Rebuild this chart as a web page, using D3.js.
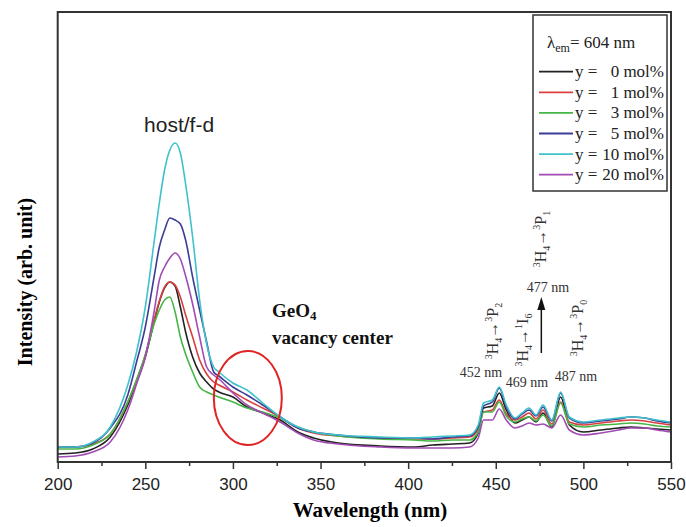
<!DOCTYPE html>
<html>
<head>
<meta charset="utf-8">
<script src="https://cdn.jsdelivr.net/npm/d3@7"></script>
<style>
  body { margin: 0; background: #fff; }
  svg { display: block; }
</style>
</head>
<body>
<svg width="686" height="527"></svg>
<script>
// wavelengths (nm) shared by all spectra
const wavelengths = [200, 210, 220, 230, 240, 245, 250, 255, 258, 261, 264, 267, 270, 273, 277, 281, 285, 289, 292,
  300, 308, 317, 327, 337, 346, 360, 384, 403, 414, 425, 435, 440, 443, 448, 452, 456, 461, 465, 469, 473, 477,
  482, 487, 492, 500, 510, 520, 527, 535, 542, 550];

// intensities (arb. unit)
const y0 = [8, 9, 13, 25, 57, 80, 105, 140, 160, 174, 180, 176, 155, 130, 105, 89, 80, 73, 70,
  65, 55, 49, 42, 30, 24, 19, 16, 15, 17, 18, 19, 29, 54, 56, 69, 52, 39, 42, 45, 40, 49,
  35, 65, 37, 30, 32, 34, 35, 34, 33, 32];
const y1 = [15, 15, 18, 28, 60, 82, 107, 142, 161, 175, 180, 177, 165, 147, 125, 102, 88, 80, 77,
  70, 62, 54, 45, 34, 29, 26, 24, 23, 23, 24, 25, 33, 50, 52, 62, 48, 42, 45, 49, 43, 52,
  38, 60, 40, 37, 39, 41, 42, 41, 39, 37];
const y3 = [13, 13, 17, 28, 60, 82, 107, 138, 152, 162, 165, 150, 125, 108, 90, 75, 70, 67, 65,
  60, 54, 50, 44, 35, 30, 26, 23, 22, 21, 22, 22, 30, 50, 50, 60, 46, 40, 43, 45, 41, 47,
  36, 59, 38, 35, 37, 38, 39, 38, 36, 35];
const y5 = [15, 15, 19, 34, 67, 100, 135, 185, 215, 232, 244, 242, 238, 222, 185, 152, 120, 90, 86,
  75, 67, 57, 45, 34, 30, 27, 24, 24, 23, 25, 26, 35, 56, 60, 74, 55, 43, 48, 52, 46, 55,
  41, 69, 44, 39, 41, 43, 45, 44, 41, 39];
const y10 = [15, 15, 20, 35, 77, 110, 155, 220, 259, 292, 312, 319, 309, 278, 225, 162, 118, 95, 90,
  79, 72, 59, 45, 35, 30, 27, 25, 24, 25, 26, 27, 37, 59, 62, 75, 57, 44, 49, 54, 47, 57,
  42, 70, 45, 40, 42, 44, 45, 44, 42, 40];
const y20 = [5, 6, 10, 20, 52, 78, 105, 150, 182, 195, 204, 209, 203, 186, 158, 125, 95, 87, 83,
  69, 57, 49, 40, 29, 22, 18, 15, 14, 14, 14, 15, 24, 42, 42, 53, 42, 34, 36, 39, 37, 38,
  34, 47, 32, 27, 29, 32, 34, 34, 32, 30];

const seriesNames = ['y =', 'y =', 'y =', 'y =', 'y =', 'y ='];
const seriesMol = ['0 mol%', '1 mol%', '3 mol%', '5 mol%', '10 mol%', '20 mol%'];
const seriesColors = ['#222222', '#d9403f', '#45b545', '#3b3d96', '#3fc2cc', '#a24bb4'];
const seriesValues = [y0, y1, y3, y5, y10, y20];
const xTicks = [200, 250, 300, 350, 400, 450, 500, 550];

const svg = d3.select('svg');
const serif = '"Liberation Serif", "Times New Roman", serif';
const sans = '"Liberation Sans", Arial, sans-serif';

const x = d3.scaleLinear().domain([200, 550]).range([57.7, 671]);
const y = d3.scaleLinear().domain([0, 450]).range([462, 12]);

// spectra
const line = d3.line()
  .x((d, i) => x(wavelengths[i]))
  .y(d => y(d))
  .curve(d3.curveMonotoneX);

// draw order: background first, cyan on top
[0, 1, 2, 5, 3, 4].forEach(k => {
  svg.append('path')
    .datum(seriesValues[k])
    .attr('d', line)
    .attr('fill', 'none')
    .attr('stroke', seriesColors[k])
    .attr('stroke-width', 1.6);
});

// frame
svg.append('rect')
  .attr('x', x(200)).attr('y', y(450))
  .attr('width', x(550) - x(200)).attr('height', y(0) - y(450))
  .attr('fill', 'none').attr('stroke', '#333').attr('stroke-width', 2);

// bottom axis
const xAxis = svg.append('g')
  .attr('transform', `translate(0,${y(0)})`)
  .call(d3.axisBottom(x).tickValues(xTicks).tickSize(7).tickPadding(9).tickFormat(d3.format('d')));
xAxis.select('.domain').remove();
xAxis.selectAll('line').attr('stroke', '#333').attr('stroke-width', 1.5);
xAxis.selectAll('text').attr('font-family', sans).attr('font-size', 17).attr('fill', '#222');

const minor = svg.append('g')
  .attr('transform', `translate(0,${y(0)})`)
  .call(d3.axisBottom(x).tickValues(d3.range(225, 550, 50)).tickSize(4).tickFormat(''));
minor.select('.domain').remove();
minor.selectAll('line').attr('stroke', '#333').attr('stroke-width', 1.5);

// axis titles
svg.append('text')
  .attr('x', 370).attr('y', 517)
  .attr('text-anchor', 'middle')
  .attr('font-family', serif).attr('font-weight', 'bold').attr('font-size', 21)
  .text('Wavelength (nm)');

svg.append('text')
  .attr('transform', 'translate(32,282) rotate(-90)')
  .attr('text-anchor', 'middle')
  .attr('font-family', serif).attr('font-weight', 'bold').attr('font-size', 20)
  .text('Intensity (arb. unit)');

// legend
const lg = svg.append('g');
lg.append('rect')
  .attr('x', 533).attr('y', 15).attr('width', 134).attr('height', 176)
  .attr('fill', '#fff').attr('stroke', '#333').attr('stroke-width', 1.5);

const lam = lg.append('text')
  .attr('x', 547).attr('y', 48)
  .attr('font-family', serif).attr('font-size', 17).attr('fill', '#222');
lam.append('tspan').text('λ');
lam.append('tspan').attr('font-size', 12).attr('baseline-shift', '-30%').text('em');
lam.append('tspan').attr('baseline-shift', '0').attr('dy', 0).text('= 604 nm');

seriesMol.forEach((m, i) => {
  const ly = 71.7 + i * 20.6;
  lg.append('line')
    .attr('x1', 539).attr('x2', 573).attr('y1', ly).attr('y2', ly)
    .attr('stroke', seriesColors[i]).attr('stroke-width', 1.8);
  lg.append('text')
    .attr('x', 575).attr('y', ly + 5.5)
    .attr('font-family', serif).attr('font-size', 17).attr('fill', '#222')
    .text(seriesNames[i]);
  lg.append('text')
    .attr('x', 664).attr('y', ly + 5.5)
    .attr('text-anchor', 'end')
    .attr('font-family', serif).attr('font-size', 17).attr('fill', '#222')
    .text(m);
});

// annotations
svg.append('text')
  .attr('x', x(267) + 4).attr('y', 132)
  .attr('text-anchor', 'middle')
  .attr('font-family', sans).attr('font-size', 21).attr('fill', '#222')
  .text('host/f-d');

const ge = svg.append('text')
  .attr('x', 272).attr('y', 317)
  .attr('font-family', serif).attr('font-weight', 'bold').attr('font-size', 19).attr('fill', '#111');
ge.append('tspan').text('GeO');
ge.append('tspan').attr('font-size', 13).attr('dy', 3).text('4');

svg.append('text')
  .attr('x', 272).attr('y', 344)
  .attr('font-family', serif).attr('font-weight', 'bold').attr('font-size', 19).attr('fill', '#111')
  .text('vacancy center');

svg.append('ellipse')
  .attr('cx', x(308.5)).attr('cy', 398).attr('rx', 34).attr('ry', 47)
  .attr('fill', 'none').attr('stroke', '#e02424').attr('stroke-width', 2);

// peak labels
const peakLabels = [
  { t: '452 nm', x: 481, y: 377 },
  { t: '469 nm', x: 527, y: 387 },
  { t: '477 nm', x: 548, y: 292 },
  { t: '487 nm', x: 576, y: 381 }
];
peakLabels.forEach(p => {
  svg.append('text')
    .attr('x', p.x).attr('y', p.y)
    .attr('text-anchor', 'middle')
    .attr('font-family', serif).attr('font-size', 14).attr('fill', '#333')
    .text(p.t);
});

// transitions (rotated)
const transitions = [
  { a: '3', b: 'P', c: '2', x: 492, y: 331 },
  { a: '1', b: 'I', c: '6', x: 522, y: 340 },
  { a: '3', b: 'P', c: '1', x: 540, y: 239 },
  { a: '3', b: 'P', c: '0', x: 577, y: 328 }
];
transitions.forEach(t => {
  const tx = svg.append('text')
    .attr('transform', `translate(${t.x + 6},${t.y}) rotate(-90)`)
    .attr('text-anchor', 'middle')
    .attr('font-family', serif).attr('font-size', 16).attr('fill', '#333');
  tx.append('tspan').attr('font-size', 10).attr('dy', -6).text('3');
  tx.append('tspan').attr('dy', 6).text('H');
  tx.append('tspan').attr('font-size', 10).attr('dy', 4).text('4');
  tx.append('tspan').attr('dy', -4).text('→');
  tx.append('tspan').attr('font-size', 10).attr('dy', -6).text(t.a);
  tx.append('tspan').attr('dy', 6).text(t.b);
  tx.append('tspan').attr('font-size', 10).attr('dy', 4).text(t.c);
});

// arrow for 477 nm
const ax = x(476);
svg.append('line')
  .attr('x1', ax).attr('x2', ax).attr('y1', 353).attr('y2', 306)
  .attr('stroke', '#111').attr('stroke-width', 1.5);
svg.append('path')
  .attr('d', `M${ax},297 L${ax - 4},310 L${ax + 4},310 Z`)
  .attr('fill', '#111');
</script>
</body>
</html>
